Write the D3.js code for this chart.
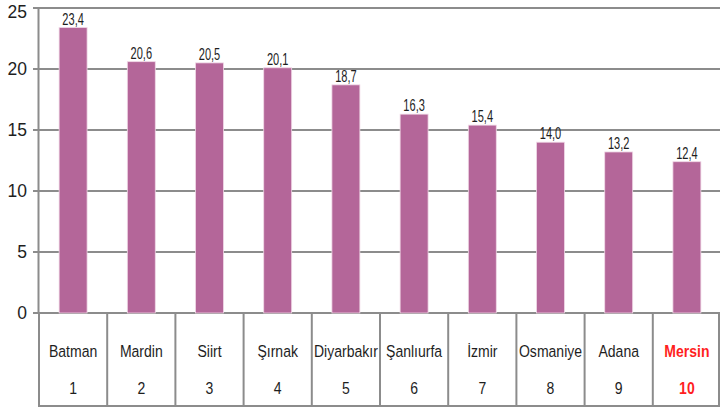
<!DOCTYPE html>
<html>
<head>
<meta charset="utf-8">
<script src="https://cdn.jsdelivr.net/npm/d3@7"></script>
<style>
  html, body { margin: 0; padding: 0; background: #fff; }
  svg { display: block; }
  text { font-family: "Liberation Sans", Arial, sans-serif; }
</style>
</head>
<body>
<svg id="chart" width="720" height="409"></svg>
<script>
// İller, sıra numaraları ve oranlar
const provinces = ["Batman", "Mardin", "Siirt", "Şırnak", "Diyarbakır", "Şanlıurfa", "İzmir", "Osmaniye", "Adana", "Mersin"];
const ranks = ["1", "2", "3", "4", "5", "6", "7", "8", "9", "10"];
const values = [23.4, 20.6, 20.5, 20.1, 18.7, 16.3, 15.4, 14.0, 13.2, 12.4];
const yTicks = [0, 5, 10, 15, 20, 25];
const highlight = "Mersin";

(function drawChart() {
  const svg = d3.select("#chart");
  const W = 720;
  const plotLeft = 39, plotRight = 721, plotTop = 8, zeroY = 313;

  const x = d3.scaleBand()
    .domain(provinces)
    .range([plotLeft, plotRight])
    .paddingInner(0).paddingOuter(0);

  const y = d3.scaleLinear()
    .domain([0, 25])
    .range([zeroY, plotTop]);

  const gridColor = "#8c8c8c";
  const textColor = "#1e1e1e";
  const condense = 0.85;

  // Yatay kılavuz çizgileri (sol uçta kısa tik çizgisiyle)
  svg.append("g")
    .selectAll("line")
    .data(yTicks)
    .join("line")
    .attr("x1", plotLeft - 6)
    .attr("x2", W)
    .attr("y1", d => y(d))
    .attr("y2", d => y(d))
    .attr("stroke", gridColor)
    .attr("stroke-width", 2.2);

  // Dikey eksen çizgisi
  svg.append("line")
    .attr("x1", plotLeft - 0.5).attr("x2", plotLeft - 0.5)
    .attr("y1", y(25)).attr("y2", y(0))
    .attr("stroke", gridColor).attr("stroke-width", 2);

  // Y ekseni etiketleri (en üstteki etiket kenarda kesilmesin diye aşağıda tutulur)
  svg.append("g")
    .selectAll("text")
    .data(yTicks)
    .join("text")
    .attr("x", 27)
    .attr("y", d => Math.max(y(d), 12))
    .attr("dy", "0.36em")
    .attr("text-anchor", "end")
    .attr("font-size", 17.5)
    .attr("fill", textColor)
    .text(d => d);

  // Sütunlar
  const barW = x.bandwidth() * 0.41;
  svg.append("g")
    .selectAll("rect")
    .data(provinces)
    .join("rect")
    .attr("x", d => x(d) + (x.bandwidth() - barW) / 2)
    .attr("y", (d, i) => y(values[i]))
    .attr("width", barW)
    .attr("height", (d, i) => y(0) - y(values[i]))
    .attr("fill", "#b46699")
    .attr("stroke", "#f0d8e6")
    .attr("stroke-width", 0.8);

  // Değer etiketleri
  svg.append("g")
    .selectAll("text")
    .data(provinces)
    .join("text")
    .attr("transform", (d, i) =>
      `translate(${x(d) + x.bandwidth() / 2},${y(values[i]) - 3}) scale(0.67,1)`)
    .attr("text-anchor", "middle")
    .attr("font-size", 16.5)
    .attr("fill", textColor)
    .text((d, i) => d3.format(".1f")(values[i]).replace(".", ","));

  // Alt tablo: dikey ayraçlar ve alt çizgi
  const tableTop = y(0), tableBottom = 406;
  const separators = provinces.map(d => x(d)).concat([W - 1]);
  svg.append("g")
    .selectAll("line")
    .data(separators)
    .join("line")
    .attr("x1", d => d).attr("x2", d => d)
    .attr("y1", tableTop).attr("y2", tableBottom)
    .attr("stroke", gridColor).attr("stroke-width", 2);

  svg.append("line")
    .attr("x1", plotLeft - 1).attr("x2", W)
    .attr("y1", tableBottom).attr("y2", tableBottom)
    .attr("stroke", gridColor).attr("stroke-width", 2.2);

  // İl adları ve sıra numaraları
  const cells = svg.append("g")
    .selectAll("g")
    .data(provinces)
    .join("g")
    .attr("transform", d => `translate(${x(d) + x.bandwidth() / 2},0)`);

  cells.append("text")
    .attr("transform", `translate(0,357) scale(${condense},1)`)
    .attr("text-anchor", "middle")
    .attr("font-size", 16.5)
    .attr("font-weight", d => d === highlight ? "bold" : "normal")
    .attr("fill", d => d === highlight ? "#ff1f1f" : textColor)
    .text(d => d);

  cells.append("text")
    .attr("transform", `translate(0,394) scale(${condense},1)`)
    .attr("text-anchor", "middle")
    .attr("font-size", 16.5)
    .attr("font-weight", d => d === highlight ? "bold" : "normal")
    .attr("fill", d => d === highlight ? "#ff1f1f" : textColor)
    .text((d, i) => ranks[i]);
})();
</script>
</body>
</html>
